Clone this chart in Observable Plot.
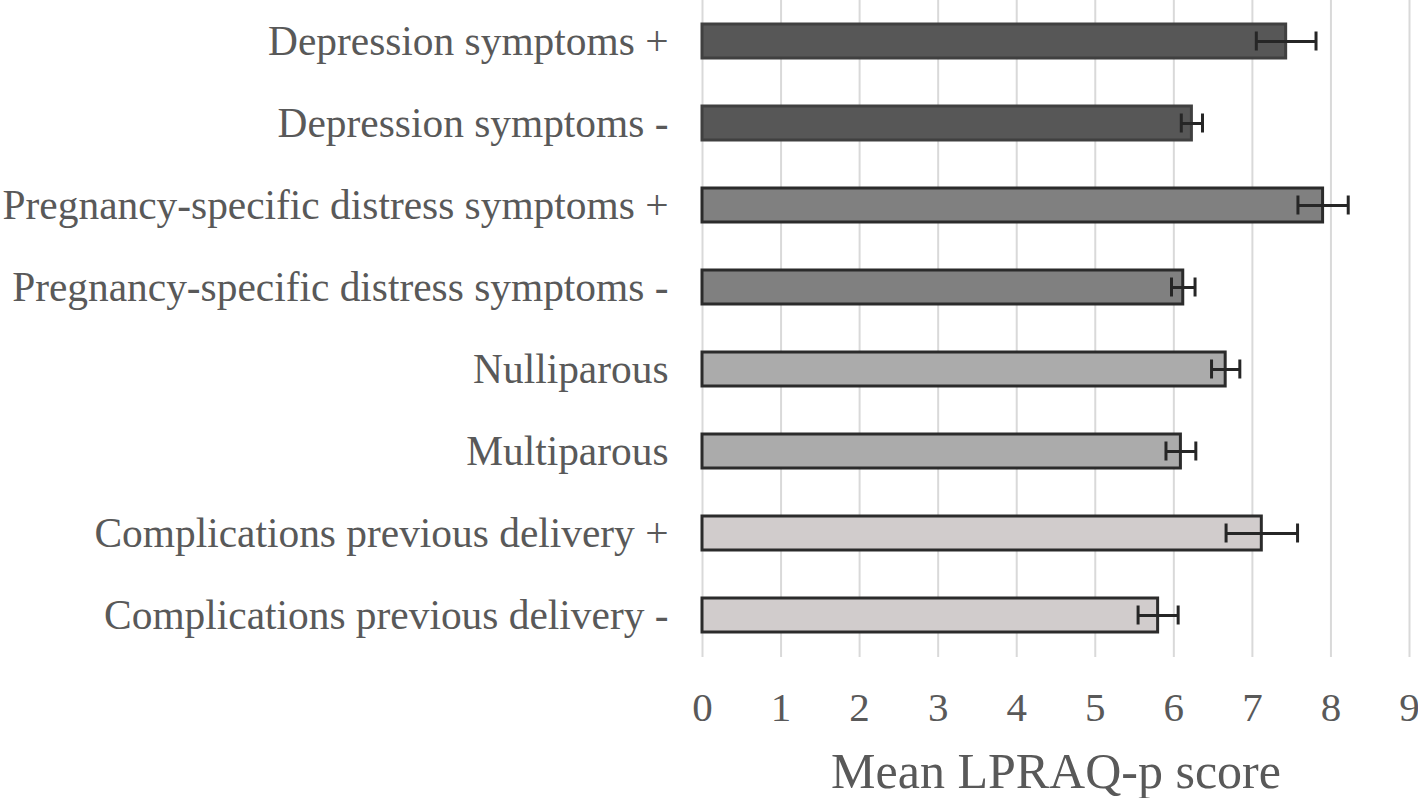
<!DOCTYPE html>
<html>
<head>
<meta charset="utf-8">
<script src="https://cdn.jsdelivr.net/npm/d3@7"></script>
<script src="https://cdn.jsdelivr.net/npm/@observablehq/plot@0.6"></script>
<style>
  html, body { margin: 0; padding: 0; background: #fff; }
  #chart svg { display: block; }
</style>
</head>
<body>
<div id="chart"></div>
<script>
const categories = [
  "Depression symptoms +",
  "Depression symptoms -",
  "Pregnancy-specific distress symptoms +",
  "Pregnancy-specific distress symptoms -",
  "Nulliparous",
  "Multiparous",
  "Complications previous delivery +",
  "Complications previous delivery -"
];
const means = [7.43, 6.23, 7.90, 6.12, 6.66, 6.09, 7.12, 5.80];
const errors = [0.38, 0.135, 0.32, 0.15, 0.18, 0.19, 0.455, 0.255];
const groups = ["Depression", "Depression", "Pregnancy", "Pregnancy", "Parity", "Parity", "Complications", "Complications"];
const groupNames = ["Depression", "Pregnancy", "Parity", "Complications"];
const groupFills = ["#575757", "#808080", "#ababab", "#d1cccc"];
const groupStrokes = ["#404040", "#2b2b2b", "#2b2b2b", "#2b2b2b"];
const xTicks = [0, 1, 2, 3, 4, 5, 6, 7, 8, 9];
const axisTitle = "Mean LPRAQ-p score";

const rows = categories.map((c, i) => ({
  category: c,
  mean: means[i],
  lo: means[i] - errors[i],
  hi: means[i] + errors[i],
  group: groups[i],
  fill: groupFills[groupNames.indexOf(groups[i])],
  stroke: groupStrokes[groupNames.indexOf(groups[i])]
}));

const font = "'Liberation Serif', 'Times New Roman', serif";

const chart = Plot.plot({
  width: 1418,
  height: 798,
  marginLeft: 702,
  marginRight: 9,
  marginTop: 0,
  marginBottom: 141,
  style: { fontFamily: font, background: "#fff", overflow: "visible" },
  x: { domain: [0, 9], ticks: xTicks },
  y: { domain: categories, paddingInner: 0.585, paddingOuter: 0.2925 },
  marks: [
    Plot.ruleX(xTicks, { stroke: "#d9d9d9", strokeWidth: 2 }),
    Plot.barX(rows, {
      x: "mean", y: "category",
      fill: d => d.fill, stroke: d => d.stroke, strokeWidth: 3
    }),
    Plot.ruleY(rows, { x1: "lo", x2: "hi", y: "category", stroke: "#262626", strokeWidth: 3 }),
    Plot.tickX(rows, { x: "lo", y: "category", stroke: "#262626", strokeWidth: 3, insetTop: 7.5, insetBottom: 7.5 }),
    Plot.tickX(rows, { x: "hi", y: "category", stroke: "#262626", strokeWidth: 3, insetTop: 7.5, insetBottom: 7.5 }),
    Plot.axisY({ tickSize: 0, tickPadding: 34, label: null, fontSize: 41.4, color: "#595959" }),
    Plot.axisX({ ticks: xTicks, tickSize: 0, tickPadding: 34, label: null, fontSize: 41, color: "#595959" }),
    Plot.text([axisTitle], {
      text: d => d, frameAnchor: "bottom", dy: 114, lineAnchor: "middle",
      fontSize: 50, fill: "#595959"
    })
  ]
});

document.getElementById("chart").appendChild(chart);
</script>
</body>
</html>
